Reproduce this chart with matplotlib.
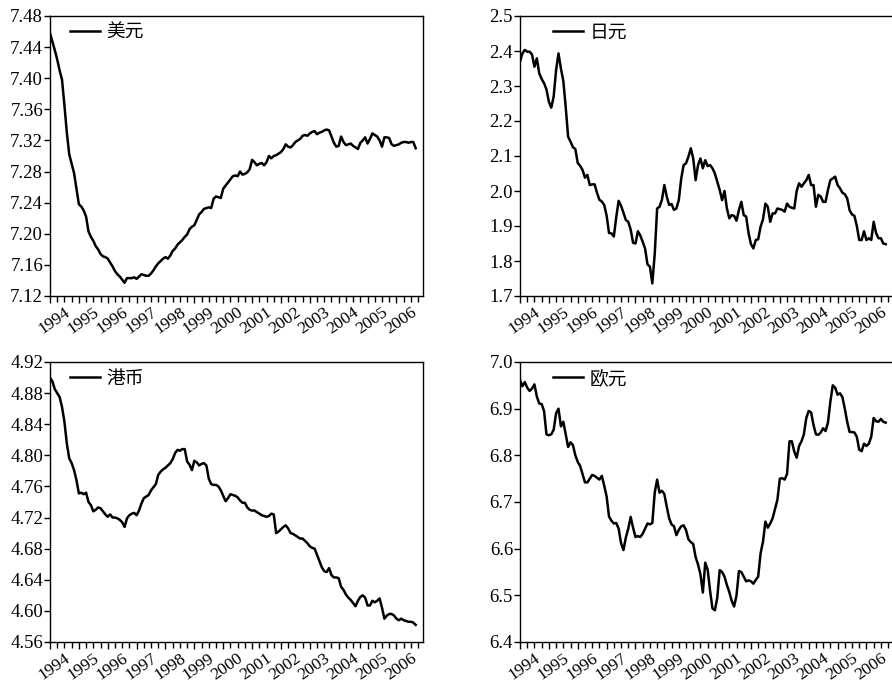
import matplotlib
matplotlib.use("Agg")
import matplotlib.pyplot as plt
import matplotlib.transforms as mtransforms
import numpy as np

start_year = 1994
n_months = 153

usd = [
    7.458, 7.447, 7.436, 7.424, 7.410, 7.398, 7.365, 7.330, 7.302, 7.290, 7.278, 7.258,
    7.238, 7.235, 7.230, 7.222, 7.203, 7.196, 7.191, 7.184, 7.180, 7.174, 7.171, 7.170,
    7.168, 7.163, 7.158, 7.152, 7.148, 7.145, 7.141, 7.137, 7.143, 7.143, 7.143, 7.144,
    7.142, 7.145, 7.148, 7.147, 7.146, 7.146, 7.149, 7.153, 7.158, 7.162, 7.165, 7.168,
    7.170, 7.168, 7.172, 7.178, 7.181, 7.186, 7.189, 7.192, 7.196, 7.199, 7.206, 7.209,
    7.211, 7.218, 7.225, 7.228, 7.232, 7.233, 7.234, 7.233, 7.245, 7.248, 7.247, 7.246,
    7.258, 7.262, 7.266, 7.270, 7.274, 7.275, 7.274, 7.280, 7.276, 7.277, 7.279, 7.283,
    7.295, 7.292, 7.288, 7.290, 7.291, 7.288, 7.292, 7.300, 7.297, 7.300, 7.301, 7.303,
    7.305, 7.309, 7.315, 7.312, 7.311, 7.314, 7.318, 7.320, 7.322, 7.326, 7.327, 7.326,
    7.329, 7.331, 7.332, 7.328, 7.330, 7.331, 7.333, 7.334, 7.333, 7.325, 7.317, 7.312,
    7.313, 7.325, 7.318, 7.314, 7.315, 7.316, 7.313, 7.311, 7.309, 7.317, 7.320, 7.324,
    7.316, 7.322, 7.329, 7.327, 7.325, 7.320, 7.312, 7.324, 7.324, 7.323, 7.315, 7.313,
    7.314, 7.315, 7.317, 7.318, 7.318, 7.317, 7.318, 7.318, 7.310,
]

jpy = [
    2.370, 2.393, 2.403, 2.398, 2.398, 2.390, 2.355, 2.379, 2.336, 2.320, 2.308, 2.290,
    2.255, 2.238, 2.270, 2.345, 2.393, 2.350, 2.315, 2.240, 2.155, 2.141, 2.125, 2.120,
    2.080, 2.072, 2.060, 2.038, 2.046, 2.017, 2.019, 2.019, 1.995, 1.975, 1.970, 1.960,
    1.930, 1.880, 1.879, 1.870, 1.925, 1.972, 1.958, 1.938, 1.917, 1.912, 1.890, 1.852,
    1.850, 1.885, 1.873, 1.855, 1.835, 1.790, 1.784, 1.736, 1.820, 1.950, 1.955, 1.975,
    2.017, 1.984, 1.960, 1.963, 1.946, 1.950, 1.974, 2.035, 2.074, 2.079, 2.098, 2.122,
    2.093, 2.031, 2.074, 2.093, 2.065, 2.088, 2.071, 2.074, 2.065, 2.050, 2.027, 2.003,
    1.974, 2.000, 1.950, 1.922, 1.931, 1.929, 1.915, 1.946, 1.969, 1.931, 1.927, 1.880,
    1.848, 1.836, 1.860, 1.862, 1.898, 1.919, 1.964, 1.955, 1.912, 1.936, 1.936, 1.950,
    1.948, 1.946, 1.941, 1.964, 1.955, 1.952, 1.950, 2.000, 2.022, 2.012, 2.022, 2.031,
    2.046, 2.017, 2.017, 1.955, 1.989, 1.984, 1.969, 1.969, 2.003, 2.031, 2.036, 2.041,
    2.017, 2.008, 1.995, 1.991, 1.979, 1.945, 1.933, 1.929, 1.900, 1.860, 1.860, 1.885,
    1.860, 1.865, 1.860, 1.912, 1.880, 1.865, 1.865, 1.850, 1.848,
]

hkd = [
    4.900, 4.895, 4.885, 4.880, 4.875, 4.862, 4.843, 4.815, 4.796, 4.790, 4.781, 4.768,
    4.751, 4.752, 4.750, 4.752, 4.740, 4.736, 4.728, 4.730, 4.733, 4.732, 4.728, 4.724,
    4.721, 4.724, 4.720, 4.720, 4.719, 4.717, 4.714, 4.708, 4.719, 4.723, 4.725, 4.726,
    4.723, 4.729, 4.738, 4.745, 4.747, 4.749, 4.755, 4.759, 4.763, 4.775, 4.779, 4.782,
    4.784, 4.787, 4.790, 4.795, 4.803, 4.807, 4.806, 4.808, 4.808, 4.792, 4.788, 4.781,
    4.793, 4.791, 4.787, 4.789, 4.790, 4.787, 4.770, 4.763, 4.762, 4.762, 4.760, 4.755,
    4.748, 4.741, 4.745, 4.750, 4.749, 4.748, 4.746, 4.742, 4.739, 4.739, 4.733, 4.730,
    4.729, 4.729, 4.727, 4.725, 4.723, 4.722, 4.721, 4.722, 4.725, 4.724, 4.700, 4.702,
    4.705, 4.708, 4.710, 4.706, 4.700, 4.699, 4.697, 4.695, 4.693, 4.693, 4.690, 4.687,
    4.683, 4.681, 4.680, 4.672, 4.664, 4.656, 4.651, 4.650, 4.655, 4.646, 4.643, 4.643,
    4.642, 4.631, 4.627, 4.621, 4.617, 4.614, 4.610, 4.606, 4.613, 4.618, 4.620, 4.617,
    4.607, 4.607, 4.613, 4.611, 4.613, 4.616, 4.604, 4.590, 4.594, 4.596, 4.596, 4.594,
    4.590, 4.588, 4.590, 4.588, 4.587, 4.586, 4.586, 4.585, 4.582,
]

eur = [
    6.961, 6.948, 6.957, 6.945, 6.938, 6.943, 6.952, 6.926, 6.911, 6.910, 6.895, 6.845,
    6.843, 6.845, 6.855, 6.890, 6.900, 6.862, 6.872, 6.845, 6.818, 6.828, 6.822, 6.800,
    6.786, 6.777, 6.760, 6.742, 6.742, 6.750, 6.758, 6.756, 6.752, 6.748, 6.756, 6.735,
    6.712, 6.669, 6.660, 6.654, 6.655, 6.643, 6.612, 6.597, 6.624, 6.643, 6.668, 6.645,
    6.625, 6.627, 6.625, 6.632, 6.643, 6.654, 6.652, 6.655, 6.720, 6.748, 6.720, 6.724,
    6.717, 6.690, 6.665, 6.652, 6.648, 6.629, 6.640, 6.648, 6.650, 6.640, 6.620, 6.614,
    6.610, 6.582, 6.566, 6.545, 6.506, 6.570, 6.555, 6.510, 6.472, 6.468, 6.495, 6.554,
    6.550, 6.540, 6.522, 6.507, 6.488, 6.476, 6.500, 6.552, 6.550, 6.540, 6.530, 6.532,
    6.530, 6.525, 6.533, 6.540, 6.590, 6.615, 6.658, 6.645, 6.654, 6.665, 6.685, 6.705,
    6.750, 6.751, 6.748, 6.760, 6.830, 6.830, 6.808, 6.795, 6.820, 6.830, 6.845, 6.880,
    6.895, 6.892, 6.865, 6.845, 6.844, 6.849, 6.858, 6.852, 6.870, 6.915, 6.950, 6.945,
    6.930, 6.933, 6.925, 6.900, 6.872, 6.850, 6.850, 6.849, 6.840, 6.812, 6.809, 6.825,
    6.820, 6.825, 6.840, 6.880, 6.873, 6.872, 6.878, 6.872, 6.870,
]

names = ["美元", "日元", "港币", "欧元"]
series = [usd, jpy, hkd, eur]
ylims = [(7.12, 7.48), (1.7, 2.5), (4.56, 4.92), (6.4, 7.0)]
ysteps = [0.04, 0.1, 0.04, 0.1]
yfmts = ["{:.2f}", "{:.1f}", "{:.2f}", "{:.1f}"]
years = list(range(1994, 2007))

serif = "Liberation Serif"
cjk = ["Noto Sans CJK SC", "DejaVu Sans"]

W, H = 892, 683
fig = plt.figure(figsize=(W / 100, H / 100), dpi=100)

# axes rectangles in pixels: left, top, width, height
rects = [
    (50, 16, 373, 280),
    (520, 16, 373, 280),
    (50, 362, 373, 280),
    (520, 362, 373, 280),
]
legend_dx = [20, 33, 20, 33]

t = start_year + np.arange(n_months) / 12.0

for k in range(4):
    l, tp, w, h = rects[k]
    ax = fig.add_axes([l / W, 1 - (tp + h) / H, w / W, h / H])
    vals = series[k]
    ax.plot(t[:len(vals)], vals, color="black", lw=1.8, label=names[k])
    ax.set_xlim(1994, 2006.92)
    lo, hi = ylims[k]
    ax.set_ylim(lo, hi)
    yt = np.round(np.arange(lo, hi + ysteps[k] / 2, ysteps[k]), 3)
    ax.set_yticks(yt)
    ax.set_yticklabels([yfmts[k].format(v) for v in yt], fontfamily=serif, fontsize=13.5)
    ax.set_xticks(years)
    ax.set_xticks(np.arange(1994, 2006.92, 0.25), minor=True)
    ax.set_xticklabels([str(y) for y in years], fontfamily=serif, fontsize=12.5,
                       rotation=35, ha="right", va="top", rotation_mode="anchor")
    ax.tick_params(axis="x", which="major", direction="out", length=5, width=1, pad=2)
    ax.tick_params(axis="x", which="minor", direction="out", length=4, width=1)
    ax.tick_params(axis="y", which="major", direction="out", length=4, width=1, pad=1)
    offset = mtransforms.ScaledTranslation(14 / 100, 1 / 100, fig.dpi_scale_trans)
    for lab in ax.get_xticklabels():
        lab.set_transform(lab.get_transform() + offset)
    for s in ax.spines.values():
        s.set_linewidth(1.0)
        s.set_color("black")
    ax.legend(loc="upper left", bbox_to_anchor=(legend_dx[k] / w, 1 - 6 / h),
              frameon=False, borderpad=0, borderaxespad=0,
              handlelength=1.6, handletextpad=0.35,
              prop={"family": cjk, "size": 13.5})

fig.savefig("out.png", dpi=100)
